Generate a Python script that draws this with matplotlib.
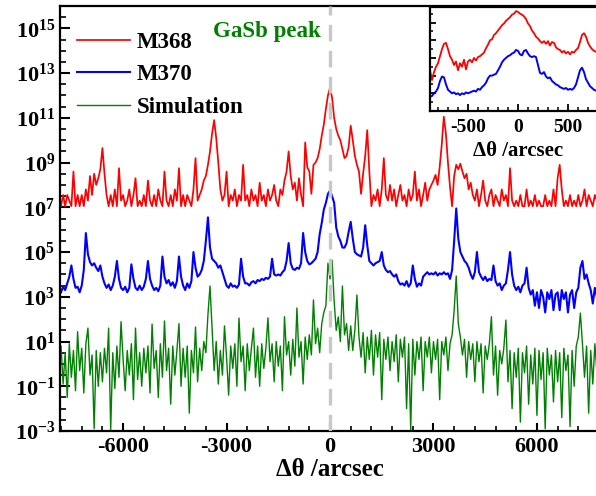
import numpy as np
import matplotlib
matplotlib.use("Agg")
import matplotlib.pyplot as plt
from matplotlib.ticker import FixedLocator, MultipleLocator, FuncFormatter, NullFormatter

OUTPUT = "out.png"

# x grid of the scans (arcsec), one value every 60 arcsec
THETA_START = -7800
THETA_STOP = 7800
THETA_STEP = 60

# log10(intensity), one line = 600 arcsec
M368_LOG = [
    7.05, 7.55, 7.05, 7.55, 7.3, 7.05, 8.6, 7.05, 7.55, 7.05,
    7.55, 7.05, 7.8, 7.3, 8.4, 7.55, 8.5, 8.0, 8.3, 8.7,
    9.65, 8.5, 7.55, 7.05, 7.55, 7.05, 7.8, 7.05, 8.75, 7.3,
    7.55, 7.05, 7.3, 7.8, 7.05, 7.55, 8.3, 7.05, 7.3, 7.05,
    7.55, 7.05, 8.2, 7.3, 7.05, 7.55, 7.05, 7.8, 7.3, 7.05,
    8.6, 7.3, 7.05, 7.55, 7.05, 7.8, 7.3, 8.75, 7.05, 7.55,
    7.05, 7.55, 7.3, 7.05, 7.8, 9.2, 7.3, 7.55, 7.8, 8.2,
    8.4, 8.9, 9.5, 10.3, 10.9, 10.1, 9.0, 7.8, 7.3, 7.55,
    8.6, 7.05, 7.55, 7.3, 7.8, 7.05, 7.55, 7.3, 8.9, 7.3,
    7.55, 7.05, 7.8, 7.3, 7.55, 7.05, 8.1, 7.3, 7.55, 7.05,
    7.8, 7.3, 7.55, 8.0, 7.3, 7.05, 7.8, 7.55, 8.2, 8.6,
    9.5, 8.4, 7.8, 8.1, 7.3, 8.3, 7.55, 7.05, 9.9, 8.8,
    8.6, 7.6, 8.9, 9.0, 9.2, 9.6, 10.2, 10.7, 11.4, 12.0,
    12.35, 11.9, 11.0, 10.5, 10.2, 10.0, 9.6, 9.2, 9.3, 9.7,
    10.65, 10.0, 9.3, 8.9, 8.6, 7.6, 8.5, 9.3, 10.45, 8.6,
    7.05, 7.55, 7.3, 7.8, 7.05, 7.8, 9.2, 7.55, 7.3, 8.0,
    7.3, 7.8, 7.05, 7.55, 8.0, 7.3, 7.55, 7.05, 7.8, 7.3,
    7.55, 8.6, 7.3, 7.8, 7.05, 7.55, 8.1, 7.3, 7.8, 8.0,
    8.2, 8.45, 8.0, 8.8, 9.8, 11.05, 10.3, 9.0, 7.9, 7.05,
    8.4, 8.9, 8.7, 8.95, 8.6, 8.3, 8.5, 7.8, 8.1, 7.55,
    7.3, 7.8, 7.05, 7.55, 8.2, 7.3, 7.05, 7.55, 7.8, 7.05,
    7.55, 7.3, 7.05, 7.8, 7.3, 7.55, 7.05, 8.75, 7.3, 7.05,
    7.3, 7.05, 7.55, 7.05, 7.05, 7.8, 7.05, 7.3, 7.05, 7.55,
    7.05, 7.3, 7.05, 7.05, 7.55, 7.05, 7.3, 7.05, 7.8, 7.05,
    8.3, 8.9, 7.8, 7.05, 7.3, 7.05, 7.55, 7.05, 7.3, 7.05,
    7.55, 7.05, 7.3, 7.8, 7.05, 7.55, 7.3, 7.05, 7.55, 7.3,
    7.05,
]

M370_LOG = [
    3.2, 3.45, 3.3, 3.6, 3.9, 4.4, 3.8, 3.4, 3.45, 3.2,
    3.5, 4.2, 5.85, 4.9, 4.55, 4.4, 4.5, 4.3, 4.15, 4.4,
    3.9, 3.6, 3.4, 3.55, 3.3, 3.5, 3.9, 4.6, 3.8, 3.4,
    3.3, 3.45, 3.2, 3.4, 4.45, 3.8, 3.4, 3.3, 3.5, 3.3,
    3.45, 3.8, 4.6, 3.8, 3.5, 3.3, 3.4, 3.25, 3.5, 4.8,
    3.9, 3.6, 3.75, 3.5, 3.65, 3.4, 3.7, 4.8, 3.9, 3.5,
    3.3, 3.6, 3.4, 3.7, 5.0, 4.3, 3.9, 4.0, 4.2, 4.6,
    5.5, 6.55, 5.2, 4.7, 4.6, 4.5, 4.3, 4.4, 4.1, 3.8,
    3.5, 3.4, 3.6, 3.45, 3.5, 3.4, 3.55, 4.7, 3.9, 3.6,
    3.6, 3.5, 3.65, 3.7, 3.6, 3.75, 3.7, 3.8, 3.75, 3.85,
    3.8, 3.9, 4.7, 4.0, 3.95, 4.0, 3.95, 4.1, 4.2, 4.6,
    5.4, 4.5, 4.25, 4.2, 4.3, 4.25, 4.5, 5.85, 5.0, 4.6,
    4.45, 4.5, 4.6, 4.7, 5.0, 5.8, 6.3, 6.9, 7.2, 7.6,
    7.75, 7.5, 7.2, 6.1, 5.7, 5.5, 5.2, 5.2, 5.4, 5.9,
    6.35, 5.6, 5.0, 4.9, 4.85, 4.8, 5.2, 6.2, 5.3, 4.6,
    4.5, 4.4, 4.5, 4.55, 4.6, 5.0, 4.4, 4.2, 4.1, 4.15,
    4.0, 3.9, 4.0, 3.7, 3.55, 3.6, 3.5, 3.7, 3.45, 3.6,
    4.4, 3.8, 3.45, 3.6, 3.5, 3.9, 4.0, 4.1, 4.0, 4.05,
    4.0, 4.1, 3.95, 4.05, 4.0, 4.1, 4.0, 4.05, 3.8, 4.2,
    5.5, 6.95, 5.6, 5.0, 4.8, 4.6, 4.5, 4.3, 4.0, 3.8,
    4.1, 5.0, 4.1, 3.9, 3.75, 3.9, 3.7, 3.8, 3.75, 4.4,
    3.7, 3.5, 3.6, 3.3, 3.5, 3.6, 4.2, 5.0, 4.0, 3.5,
    3.3, 3.45, 3.2, 3.5, 3.6, 4.3, 3.4, 3.1, 3.3, 2.6,
    3.2, 2.5, 3.3, 3.0, 2.3, 3.2, 2.9, 3.3, 2.4, 3.1,
    3.2, 2.4, 3.3, 2.9, 3.2, 2.3, 3.1, 3.3, 2.5, 3.2,
    3.4, 4.3, 4.6, 3.8, 4.0, 3.6, 3.3, 2.7, 3.4, 3.0,
    3.3,
]

SIM_LOG = [
    0.8, -0.9, 0.5, -1.5, 0.9, -0.6, 0.6, -1.2, 1.44, -0.3,
    0.7, -1.3, 0.9, 1.6, -0.5, 0.4, -2.9, 0.6, -1.0, 0.5,
    -0.8, 0.7, -0.4, 1.6, -2.95, 0.5, -1.1, 0.8, -0.6, 1.89,
    0.2, -1.2, 0.6, -0.5, 0.9, -1.6, 1.6, -0.7, 0.5, -1.0,
    0.7, -0.4, 0.8, -1.3, 1.78, -0.2, 0.6, -1.5, 0.9, -0.6,
    1.92, -0.3, 0.7, -1.8, 0.8, -0.5, 0.6, 1.8, -1.0, 0.7,
    -0.6, 0.8, -2.2, 0.6, -0.4, 1.65, -0.8, 0.7, -0.3, 1.0,
    0.5, 2.2, 3.48, 1.6, -0.3, 1.0, -0.9, 0.6, -0.5, 1.7,
    0.3, -1.4, 0.8, -0.2, 0.9, -1.0, 2.05, 0.1, 0.8, -1.2,
    0.9, -0.3, 0.7, 1.6, -0.6, 0.8, -1.0, 0.9, -0.2, 0.7,
    2.06, 0.1, 0.9, -0.8, 1.0, -0.1, 0.8, -1.2, 2.11, 0.4,
    1.0, -0.5, 1.1, -0.1, 2.5, 0.3, 1.0, -0.9, 1.2, 0.2,
    1.3, 0.4, 2.86, 0.9, 1.6, 0.5, 1.8, 2.3, 2.6, 4.5,
    3.8, 4.64, 2.8, 1.5, 2.1, 1.0, 3.48, 1.3, 1.8, 0.6,
    1.7, 0.6, 1.5, 3.08, 1.2, 0.3, 1.4, -0.4, 1.2, 0.2,
    1.5, -0.5, 1.3, 0.3, 1.4, -1.6, 1.1, 0.2, 1.2, -0.3,
    1.0, 0.1, 1.3, -0.8, 1.1, 0.3, 1.2, -2.0, 0.9, -2.95,
    1.1, -0.5, 1.0, 0.2, 1.2, -1.2, 1.0, 0.3, 1.2, -0.4,
    1.0, 0.2, 1.1, -1.6, 1.0, 0.4, 1.2, -0.3, 0.9, 1.3,
    2.4, 3.93, 1.8, 1.2, 0.4, 1.1, -0.6, 1.0, 0.2, 0.9,
    -0.8, 1.0, 0.1, 0.9, -1.3, 0.8, 0.2, 0.9, 2.11, -0.5,
    0.8, -1.4, 0.6, 0.0, 0.7, 1.96, -0.8, 0.6, -2.0, 0.5,
    -0.6, 0.7, -2.6, 0.5, -0.4, 0.8, -1.8, 0.4, -0.9, 0.7,
    -2.3, 0.6, -0.7, 0.5, -2.9, 0.7, -0.5, 0.4, -1.7, 0.6,
    -0.8, 0.5, -2.4, 0.7, -0.3, 0.4, -2.8, 0.6, -1.0, 0.8,
    1.2, 2.27, 0.9, -0.6, 0.8, -2.2, 0.6, -0.9, 0.9, -0.4,
    0.7,
]

# inset: zoom around the GaSb peak, one value every 20 arcsec
INSET_START = -880
INSET_STOP = 880
INSET_STEP = 20

INSET_M368_LOG = [
    2.3, 1.75, 2.2, 2.5, 2.7, 3.1, 3.5, 3.8, 3.85, 3.5,
    3.1, 2.9, 2.6, 2.8, 2.3, 2.7, 2.5, 2.9, 2.35, 2.8,
    2.9, 2.75, 3.0, 2.85, 3.05, 3.1, 3.2, 3.3, 3.55, 3.75,
    4.0, 4.05, 4.3, 4.4, 4.55, 4.7, 4.85, 4.95, 5.1, 5.2,
    5.3, 5.45, 5.5, 5.65, 5.6, 5.5, 5.45, 5.35, 5.2, 4.95,
    4.8, 4.55, 4.4, 4.2, 4.1, 3.95, 3.85, 3.95, 3.8, 3.95,
    3.7, 3.9, 3.85, 3.6, 3.5, 3.45, 3.3, 3.4, 3.25, 3.35,
    3.2, 3.35, 3.3, 3.45, 3.55, 3.9, 4.3, 4.4, 4.2, 3.85,
    3.65, 3.5, 3.4, 3.35, 3.3, 3.2, 3.15, 3.1, 3.05,
]

INSET_M370_LOG = [
    0.8, 0.85, 1.0, 1.1, 1.3, 1.7, 1.95, 1.9, 1.5, 1.2,
    1.1, 1.0, 1.05, 0.95, 1.0, 0.9, 1.0, 0.95, 1.05, 1.0,
    1.05, 1.1, 1.15, 1.1, 1.25, 1.2, 1.35, 1.45, 1.6, 1.85,
    2.0, 2.0, 2.05, 2.1, 2.3, 2.5, 2.75, 2.9, 3.0, 3.1,
    3.15, 3.25, 3.3, 3.45, 3.4, 3.2, 3.15, 3.4, 3.45, 3.25,
    3.1, 3.05, 3.1, 3.05, 2.6, 2.15, 2.1, 2.2, 1.95, 1.85,
    1.9, 1.7, 1.6, 1.5, 1.45, 1.35, 1.3, 1.25, 1.3, 1.2,
    1.25, 1.2, 1.3, 1.5, 1.9, 2.3, 2.45, 2.2, 1.8, 1.6,
    1.4, 1.3, 1.2, 1.15, 1.1, 1.05, 1.0, 1.0, 0.95,
]

LABELS = ["M368", "M370", "Simulation"]
COLORS = ["#ff0000", "#0000ff", "#008000"]

FONT = "Liberation Serif"


def setup_fonts():
    plt.rcParams["font.family"] = FONT
    plt.rcParams["font.weight"] = "bold"
    plt.rcParams["mathtext.fontset"] = "custom"
    plt.rcParams["mathtext.rm"] = FONT + ":bold"
    plt.rcParams["mathtext.bf"] = FONT + ":bold"
    plt.rcParams["mathtext.it"] = FONT + ":bold:italic"
    plt.rcParams["axes.unicode_minus"] = False


def power_label(value, pos):
    return r"$\mathbf{10^{%d}}$" % int(round(np.log10(value)))


def draw_main(fig, theta):
    ax = fig.add_axes([60 / 596, 65 / 496, 539 / 596, 425 / 496])
    series = [M368_LOG, M370_LOG, SIM_LOG]
    widths = [1.25, 1.5, 1.0]
    for values, label, color, lw in zip(series, LABELS, COLORS, widths):
        ax.plot(theta, 10.0 ** np.array(values), color=color, lw=lw, label=label)

    ax.axvline(0, color="#c8c8c8", lw=2.4, ls=(0, (5, 2.8)), zorder=5)

    ax.set_yscale("log")
    ax.set_xlim(THETA_START - 30, THETA_STOP)
    ax.set_ylim(1e-3, 1e16)

    ax.xaxis.set_major_locator(MultipleLocator(3000))
    ax.xaxis.set_minor_locator(MultipleLocator(600))
    majors = [10.0 ** k for k in range(-3, 16, 2)]
    minors = [10.0 ** (k / 2) for k in range(-6, 33) if (k / 2) not in range(-3, 16, 2)]
    ax.yaxis.set_major_locator(FixedLocator(majors))
    ax.yaxis.set_minor_locator(FixedLocator(minors))
    ax.yaxis.set_major_formatter(FuncFormatter(power_label))
    ax.yaxis.set_minor_formatter(NullFormatter())

    ax.tick_params(axis="y", which="major", direction="in", length=7, width=1.5, labelsize=16)
    ax.tick_params(axis="y", which="minor", direction="in", length=4, width=1.2)
    ax.tick_params(axis="x", which="major", direction="in", length=6, width=1.5, labelsize=16, pad=4)
    ax.tick_params(axis="x", which="minor", direction="in", length=3.5, width=1.2)
    for side in ax.spines.values():
        side.set_linewidth(1.6)

    ax.set_xlabel("Δθ /arcsec", fontsize=18, fontweight="bold", labelpad=1)

    ax.text(-1830, 10 ** 14.85, "GaSb peak", color="#008000", fontsize=16.5,
            fontweight="bold", ha="center", va="center")

    ax.legend(loc="upper left", bbox_to_anchor=(0.032, 0.94), frameon=False,
              fontsize=16.5, handlelength=2.3, handletextpad=0.3,
              labelspacing=0.5, borderpad=0, borderaxespad=0)
    return ax


def draw_inset(fig):
    ins = fig.add_axes([430 / 596, 385 / 496, 176 / 596, 104 / 496])
    theta = np.arange(INSET_START, INSET_STOP + 1, INSET_STEP)
    ins.plot(theta, 10.0 ** np.array(INSET_M368_LOG), color=COLORS[0], lw=1.3)
    ins.plot(theta, 10.0 ** np.array(INSET_M370_LOG), color=COLORS[1], lw=1.4)
    ins.set_yscale("log")
    ins.set_xlim(INSET_START, INSET_STOP)
    ins.set_ylim(1.0, 10 ** 5.88)

    ins.xaxis.set_major_locator(MultipleLocator(500))
    ins.xaxis.set_minor_locator(MultipleLocator(100))
    ins.yaxis.set_major_locator(FixedLocator([10.0 ** k for k in range(0, 6)]))
    ins.yaxis.set_minor_locator(FixedLocator([10.0 ** (k + 0.5) for k in range(0, 6)]))
    ins.yaxis.set_major_formatter(NullFormatter())
    ins.yaxis.set_minor_formatter(NullFormatter())

    ins.tick_params(axis="x", which="major", direction="in", length=5, width=1.3, labelsize=14, pad=6)
    ins.tick_params(axis="x", which="minor", direction="in", length=3, width=1.1)
    ins.tick_params(axis="y", which="major", direction="in", length=4, width=1.3)
    ins.tick_params(axis="y", which="minor", direction="in", length=2.5, width=1.1)
    for side in ins.spines.values():
        side.set_linewidth(1.6)
    ins.set_xlabel("Δθ /arcsec", fontsize=15, fontweight="bold", labelpad=3)
    return ins


def main():
    setup_fonts()
    theta = np.arange(THETA_START, THETA_STOP + 1, THETA_STEP)
    fig = plt.figure(figsize=(5.96, 4.96), dpi=100)
    draw_main(fig, theta)
    draw_inset(fig)
    fig.savefig(OUTPUT, dpi=100)


if __name__ == "__main__":
    main()
